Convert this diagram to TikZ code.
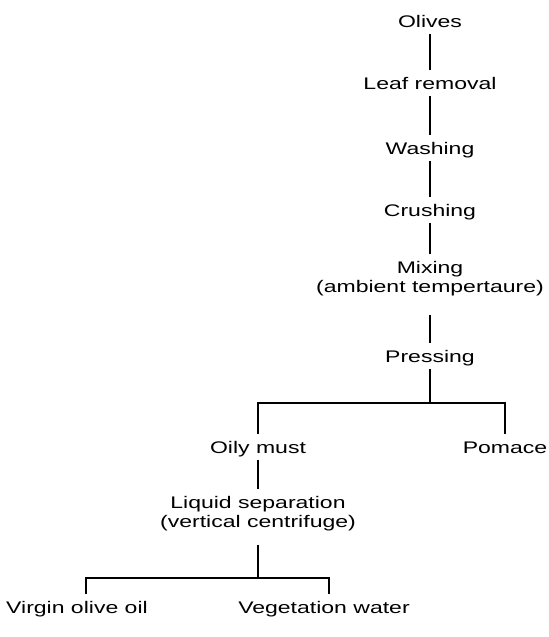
\documentclass[tikz,border=0pt]{standalone}
\usepackage{fontspec}
\newfontfamily\flowfont[FakeStretch=1.37]{Liberation Sans}

\begin{document}
\begin{tikzpicture}[x=0.5pt, y=-0.5pt,
    stage/.style={font={\flowfont\fontsize{8.4pt}{9.5pt}\selectfont}, inner xsep=2pt, inner ysep=1.5pt, text height=8pt, text depth=1.75pt, anchor=base},
    stagetwo/.style={font={\flowfont\fontsize{8.4pt}{9.5pt}\selectfont}, align=center, inner xsep=2pt, inner ysep=3.5pt},
    flow/.style={line width=0.7pt}]

% Dimensions
\def\mainx{430}
\def\sidex{258}

\useasboundingbox (0, 0) rectangle (549, 637);

% Main line of stages
\node[stage] (olives) at (\mainx, 27) {Olives};
\node[stage] (leaf) at (\mainx, 89) {Leaf removal};
\node[stage] (wash) at (\mainx, 154) {Washing};
\node[stage] (crush) at (\mainx, 216) {Crushing};
\node[stagetwo] (mix) at (\mainx, 279) {Mixing\\(ambient tempertaure)};
\node[stage] (press) at (\mainx, 362) {Pressing};

% First split
\node[stage] (oily) at (\sidex, 453) {Oily must};
\node[stage] (pomace) at (505, 453) {Pomace};
\node[stagetwo] (sep) at (\sidex, 514) {Liquid separation\\(vertical centrifuge)};

% Second split
\node[stage] (virgin) at (77, 613) {Virgin olive oil};
\node[stage] (veg) at (324, 613) {Vegetation water};

\coordinate (pbar) at (\mainx, 403);
\coordinate (sbar) at (\sidex, 578);

% Connectors
\foreach \a/\b in {olives/leaf, leaf/wash, wash/crush, crush/mix} {
    \draw[flow] (\a) -- (\b);
}
\draw[flow] ([yshift=-5.5pt]mix.south) -- (press);
\draw[flow] (press) -- (pbar);
\draw[flow] (oily) |- (pbar) -| (pomace);
\draw[flow] (oily) -- (sep);
\draw[flow] ([yshift=-3pt]sep.south) -- (sbar);
\draw[flow] ([xshift=4.5pt]virgin.north) |- (sbar) -| ([xshift=2.5pt]veg.north);

\end{tikzpicture}
\end{document}
